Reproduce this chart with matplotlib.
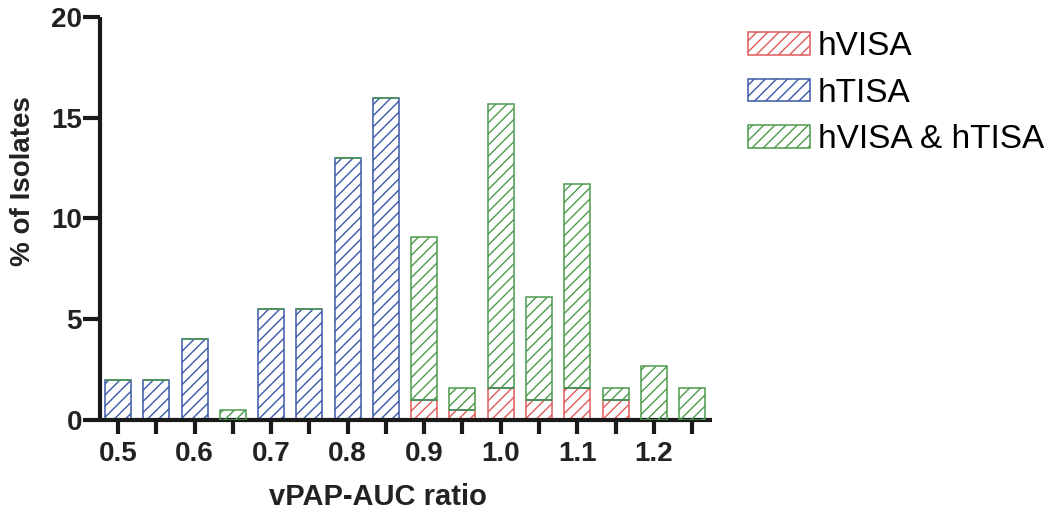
# vPAP-AUC ratio distribution by phenotype (stacked, hatched bars)

import numpy as np
import matplotlib
matplotlib.use('Agg')
import matplotlib.pyplot as plt
from matplotlib.patches import Patch

# bin centres
ratio = [0.50, 0.55, 0.60, 0.65, 0.70, 0.75, 0.80, 0.85,
         0.90, 0.95, 1.00, 1.05, 1.10, 1.15, 1.20, 1.25]

# % of isolates in each segment
hvisa = [0, 0, 0, 0, 0, 0, 0, 0,
         1.0, 0.5, 1.6, 1.0, 1.6, 1.0, 0, 0]
htisa = [2.0, 2.0, 4.0, 0, 5.5, 5.5, 13.0, 16.0,
         0, 0, 0, 0, 0, 0, 0, 0]
both = [0, 0, 0, 0.5, 0, 0, 0, 0,
        8.1, 1.1, 14.1, 5.1, 10.1, 0.6, 2.7, 1.6]

labels = ['hVISA', 'hTISA', 'hVISA & hTISA']
colors = ['#e05a5a', '#3a58a8', '#4c9a4c']

ytick_major = [0, 5, 10, 15, 20]

plt.rcParams['font.family'] = ['Liberation Sans', 'DejaVu Sans']
plt.rcParams['hatch.linewidth'] = 1.0

fig = plt.figure(figsize=(10.59, 5.11), dpi=100)
ax = fig.add_axes([100/1059, 1 - 420/511, 612/1059, 403/511])

x = np.array(ratio)
red = np.array(hvisa)
blue = np.array(htisa)
green = np.array(both)
w = 0.034
hp = '///'

ax.bar(x, red, width=w, color='none', edgecolor=colors[0], hatch=hp, linewidth=1.1, zorder=2)
ax.bar(x, blue, bottom=red, width=w, color='none', edgecolor=colors[1], hatch=hp, linewidth=1.1, zorder=2)
ax.bar(x, green, bottom=red + blue, width=w, color='none', edgecolor=colors[2], hatch=hp, linewidth=1.1, zorder=3)

ax.set_xlim(0.4765, 1.276)
ax.set_ylim(0, 20)

ax.spines['top'].set_visible(False)
ax.spines['right'].set_visible(False)
for s in ['left', 'bottom']:
    ax.spines[s].set_linewidth(3)
    ax.spines[s].set_color('#1a1a1a')
    ax.spines[s].set_capstyle('butt')

ax.set_yticks(ytick_major)
ax.set_xticks(ratio)
ax.set_xticklabels([f'{v:.1f}' if round(v * 100) % 10 == 0 else '' for v in ratio])
ax.tick_params(axis='both', width=3, length=10, color='#1a1a1a', labelsize=20, pad=5)
ax.tick_params(axis='y', length=12, pad=1)
for t in ax.get_xticklabels() + ax.get_yticklabels():
    t.set_fontweight('bold')
    t.set_color('#222222')

fig.text(378/1059, 1 - 497/511, 'vPAP-AUC ratio', fontsize=21, fontweight='bold',
         ha='center', va='center', color='#222222')
fig.text(23/1059, 1 - 181/511, '% of Isolates', fontsize=20, fontweight='bold',
         rotation=90, ha='center', va='center', color='#222222')

handles = [Patch(facecolor='none', edgecolor=c, hatch=hp, linewidth=1.1) for c in colors]
fig.legend(handles, labels, loc='upper left', bbox_to_anchor=(748/1059, 1 - 31/511),
           frameon=False, fontsize=24, handlelength=1.85, handleheight=0.66,
           handletextpad=0.25, labelspacing=0.47, borderpad=0, borderaxespad=0)

fig.savefig('out.png', dpi=100, facecolor='white')
